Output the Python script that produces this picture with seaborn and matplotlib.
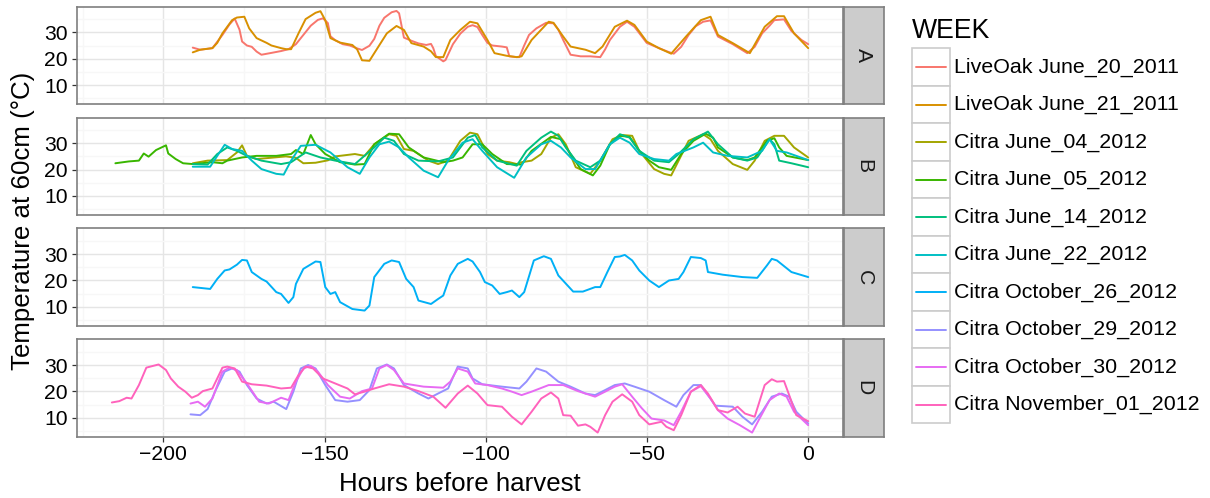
import matplotlib
matplotlib.use("Agg")
import matplotlib.pyplot as plt
from matplotlib.patches import Rectangle
import pandas as pd
import seaborn as sns

# ---------------------------------------------------------------------------
# Temperature records at 60 cm depth, hours before harvest
# ---------------------------------------------------------------------------
weeks = [
    "LiveOak June_20_2011", "LiveOak June_21_2011", "Citra June_04_2012",
    "Citra June_05_2012", "Citra June_14_2012", "Citra June_22_2012",
    "Citra October_26_2012", "Citra October_29_2012", "Citra October_30_2012",
    "Citra November_01_2012",
]
week_panel = ["A", "A", "B", "B", "B", "B", "C", "D", "D", "D"]
week_colors = ["#F8766D", "#D89000", "#A3A500", "#39B600", "#00BF7D",
               "#00BFC4", "#00B0F6", "#9590FF", "#E76BF3", "#FF62BC"]
panel_labels = ["A", "B", "C", "D"]

lo_0620_h = [-190.9, -188.6, -184.8, -181.7, -179.5, -177.9, -176.4, -175.6, -174.1, -172.6,
             -171.1, -169.6, -166.5, -163.5, -161.2, -158.9, -156.6, -154.3, -152.1, -150.5,
             -149.0, -148.2, -146.7, -144.4, -142.2, -139.9, -138.4, -136.1, -134.6, -133.0,
             -131.5, -129.2, -127.7, -126.9, -125.4, -123.1, -120.9, -118.5, -117.0, -116.3,
             -115.5, -113.2, -112.5, -110.2, -107.9, -105.6, -104.1, -102.6, -101.1, -99.5,
             -98.0, -95.0, -93.5, -92.7, -90.4, -89.6, -88.1, -86.6, -84.3, -81.3,
             -79.0, -77.5, -76.0, -73.7, -70.6, -67.6, -64.5, -63.0, -61.5, -58.4,
             -56.2, -53.9, -50.1, -46.3, -43.2, -41.7, -39.4, -37.1, -34.9, -32.6,
             -30.3, -28.0, -23.4, -18.9, -16.6, -14.3, -12.0, -10.5, -7.5, -5.2,
             -2.1, 0.0]
lo_0620_t = [24.2, 23.4, 24.0, 29.0, 33.0, 35.2, 31.0, 26.5, 25.0, 24.5,
             22.7, 21.5, 22.2, 22.9, 23.6, 25.5, 29.0, 32.5, 34.7, 35.3,
             33.5, 28.5, 27.0, 25.5, 25.0, 23.9, 23.3, 24.9, 27.5, 32.5,
             35.5, 37.6, 38.1, 37.2, 28.0, 26.8, 25.8, 25.2, 25.6, 24.0,
             21.0, 19.0, 19.5, 25.5, 29.5, 32.1, 32.7, 32.0, 29.0, 26.0,
             25.0, 24.6, 24.3, 20.9, 20.6, 20.6, 25.0, 29.0, 31.5, 33.6,
             33.4, 31.0, 27.1, 21.5, 20.9, 20.9, 20.6, 23.5, 27.1, 32.1,
             34.0, 32.1, 26.0, 24.0, 22.5, 21.9, 24.5, 29.0, 32.3, 34.0,
             34.5, 28.4, 25.5, 22.1, 24.5, 29.6, 32.5, 34.6, 34.9, 30.5,
             27.1, 25.5]

lo_0621_h = [-190.9, -188.6, -184.8, -183.3, -181.7, -178.7, -177.2, -174.9, -173.4, -171.1,
             -168.0, -166.5, -163.5, -161.9, -160.4, -158.1, -155.9, -152.8, -151.3, -149.8,
             -148.2, -145.2, -141.4, -139.9, -138.4, -136.1, -134.6, -130.7, -127.7, -125.4,
             -123.1, -119.3, -117.0, -115.5, -113.2, -111.0, -107.9, -104.9, -102.6, -99.5,
             -97.3, -93.5, -90.4, -88.9, -85.8, -80.5, -79.0, -76.0, -73.7, -69.1,
             -66.1, -63.8, -60.0, -56.2, -53.9, -50.1, -46.3, -42.5, -37.9, -33.3,
             -30.3, -28.0, -23.4, -18.1, -13.5, -9.7, -7.5, -4.4, 0.0]
lo_0621_t = [22.4, 23.4, 24.0, 26.0, 29.6, 34.6, 35.6, 35.9, 31.5, 27.8,
             26.0, 25.0, 24.0, 23.6, 23.6, 29.6, 35.0, 37.4, 38.0, 34.6,
             27.8, 26.1, 25.2, 23.5, 19.4, 19.2, 22.1, 29.6, 32.4, 30.9,
             25.9, 24.6, 22.8, 20.6, 20.6, 27.1, 30.9, 34.0, 33.4, 27.1,
             22.1, 21.1, 20.6, 20.9, 27.1, 34.0, 33.6, 28.4, 24.6, 23.4,
             22.1, 24.6, 32.1, 34.4, 32.8, 26.5, 24.0, 21.9, 28.4, 34.6,
             35.9, 29.0, 25.9, 22.1, 32.1, 36.1, 36.1, 29.6, 24.0]

ci_0604_h = [-190.9, -186.3, -180.2, -177.2, -175.6, -174.1, -171.1, -166.5, -162.0, -159.0,
             -156.6, -152.8, -149.0, -146.7, -140.6, -137.6, -134.6, -130.0, -127.7, -125.4,
             -122.4, -117.8, -114.8, -111.7, -107.9, -104.9, -102.6, -99.5, -96.5, -92.7,
             -90.4, -88.9, -85.8, -82.8, -79.8, -77.5, -75.2, -72.1, -67.6, -64.5,
             -60.7, -57.7, -54.6, -52.4, -47.8, -44.7, -42.5, -40.2, -37.1, -32.6,
             -30.3, -28.0, -23.4, -18.9, -16.6, -13.5, -10.5, -7.5, -4.4, 0.0]
ci_0604_t = [22.4, 23.4, 23.6, 26.5, 29.2, 25.2, 24.0, 24.5, 25.0, 24.5,
             22.4, 22.6, 23.5, 25.0, 25.9, 25.2, 29.6, 33.4, 32.8, 27.8,
             27.1, 23.4, 22.1, 23.4, 30.9, 34.0, 33.4, 25.9, 23.4, 22.8,
             22.1, 22.8, 23.4, 25.9, 32.1, 33.4, 29.6, 20.9, 18.4, 23.4,
             31.5, 33.1, 32.8, 27.1, 20.2, 18.4, 17.8, 23.4, 30.9, 33.4,
             31.5, 27.1, 22.1, 19.9, 23.4, 30.9, 32.8, 32.8, 28.4, 24.6]

ci_0605_h = [-214.9, -210.7, -207.6, -206.1, -204.6, -202.3, -199.2, -198.5, -196.2, -193.9,
             -190.9, -184.8, -181.7, -180.2, -175.6, -171.1, -165.0, -160.4, -158.9, -156.6,
             -154.3, -152.8, -149.8, -145.2, -140.6, -137.6, -134.6, -130.0, -126.9, -123.9,
             -119.3, -113.2, -110.2, -107.2, -104.1, -101.1, -98.0, -93.5, -88.9, -85.8,
             -79.8, -76.7, -73.7, -70.6, -66.8, -64.5, -61.5, -58.4, -55.4, -52.4,
             -49.3, -46.3, -42.5, -39.4, -35.6, -31.8, -29.5, -28.0, -23.4, -18.9,
             -16.6, -12.8, -10.5, -9.0, -6.7, 0.0]
ci_0605_t = [22.4, 23.1, 23.4, 26.1, 24.9, 27.4, 29.2, 26.1, 24.0, 22.4,
             22.1, 22.8, 22.4, 23.4, 24.6, 25.2, 25.2, 25.9, 27.4, 25.9,
             33.1, 29.6, 25.9, 22.8, 21.9, 22.1, 29.6, 33.6, 33.4, 28.4,
             24.6, 22.8, 23.4, 24.6, 29.6, 29.6, 25.9, 22.1, 21.9, 27.1,
             32.4, 31.5, 25.9, 20.2, 17.8, 21.5, 29.6, 32.8, 32.4, 27.1,
             23.4, 20.9, 19.9, 25.9, 30.9, 33.6, 32.1, 28.4, 24.6, 23.6,
             24.6, 30.9, 31.9, 28.4, 25.2, 23.6]

ci_0614_h = [-190.9, -186.3, -183.3, -180.2, -177.2, -174.1, -169.6, -163.5, -160.4, -155.9,
             -151.3, -146.7, -140.6, -134.6, -131.5, -128.5, -125.4, -120.9, -114.8, -110.2,
             -105.6, -103.3, -101.1, -96.5, -90.4, -87.4, -82.8, -79.8, -77.5, -75.2,
             -72.1, -67.6, -64.5, -61.5, -58.4, -55.4, -52.4, -47.8, -43.2, -40.2,
             -35.6, -31.1, -28.0, -23.4, -18.9, -15.8, -12.0, -10.5, -9.0, -5.2,
             0.0]
ci_0614_t = [22.1, 21.9, 25.9, 28.4, 27.1, 25.2, 23.4, 22.1, 22.8, 26.5,
             24.6, 23.4, 22.1, 28.4, 32.1, 30.9, 25.9, 23.4, 23.1, 24.6,
             32.1, 33.1, 28.4, 23.4, 21.5, 27.1, 32.1, 34.4, 32.8, 28.4,
             23.4, 20.9, 23.4, 29.6, 33.4, 32.1, 27.1, 23.4, 22.8, 25.9,
             31.5, 34.4, 29.6, 24.6, 23.4, 24.6, 31.5, 29.6, 23.4, 22.4,
             20.9]

ci_0622_h = [-190.9, -185.5, -183.3, -181.0, -178.7, -175.6, -172.6, -169.6, -165.0, -162.7,
             -160.4, -157.4, -152.8, -148.2, -142.9, -139.1, -136.1, -133.0, -130.0, -126.9,
             -123.9, -119.3, -114.8, -111.7, -107.2, -104.1, -101.1, -96.5, -91.2, -87.4,
             -82.8, -79.8, -76.7, -73.7, -69.1, -66.1, -61.5, -58.4, -55.4, -52.4,
             -47.8, -43.2, -40.9, -35.6, -32.6, -29.5, -25.0, -18.9, -14.3, -12.0,
             -9.7, -6.7, -3.7, 0.0]
ci_0622_t = [21.1, 21.1, 25.2, 29.4, 27.8, 27.1, 23.4, 20.2, 18.4, 18.1,
             23.4, 29.0, 29.4, 26.5, 20.9, 18.4, 24.6, 29.6, 30.6, 28.4,
             24.6, 19.6, 17.1, 23.4, 30.2, 31.5, 27.1, 20.9, 16.9, 24.6,
             29.6, 30.9, 28.4, 24.6, 20.2, 20.2, 29.6, 32.1, 30.2, 25.9,
             24.0, 23.4, 25.9, 28.4, 30.2, 26.5, 25.2, 24.6, 27.1, 31.5,
             27.1, 26.5, 25.2, 23.6]

ci_1026_h = [-190.9, -185.5, -183.3, -181.0, -179.5, -177.2, -175.6, -174.1, -172.6, -169.6,
             -168.0, -165.0, -163.5, -161.2, -159.7, -158.9, -156.6, -152.8, -151.3, -149.8,
             -148.2, -146.7, -145.2, -141.4, -137.6, -136.1, -134.6, -131.5, -129.2, -126.9,
             -124.7, -122.4, -120.9, -117.0, -114.8, -113.2, -111.0, -108.7, -105.6, -104.1,
             -101.8, -100.3, -98.0, -95.7, -93.5, -91.9, -89.6, -88.1, -85.1, -82.0,
             -79.8, -77.5, -72.9, -69.9, -66.1, -64.5, -62.3, -60.0, -58.4, -56.9,
             -54.6, -52.4, -49.3, -46.3, -43.2, -40.2, -38.7, -36.4, -33.3, -31.8,
             -31.1, -26.5, -20.4, -15.8, -12.8, -11.3, -9.7, -5.2, 0.0]
ci_1026_t = [17.5, 16.8, 20.6, 23.8, 24.2, 26.0, 27.8, 27.6, 23.2, 20.6,
             19.6, 15.6, 14.9, 11.5, 13.7, 18.7, 24.4, 27.2, 27.0, 17.5,
             14.9, 15.6, 11.8, 9.2, 8.6, 10.5, 21.3, 26.3, 27.6, 27.0,
             20.6, 17.5, 12.4, 11.1, 13.0, 14.3, 21.9, 26.3, 28.2, 27.2,
             23.2, 19.4, 18.1, 14.9, 15.6, 16.2, 13.7, 15.6, 27.6, 29.2,
             28.2, 21.9, 15.8, 15.8, 17.5, 17.5, 23.2, 28.9, 29.1, 29.7,
             27.6, 23.8, 20.0, 17.5, 20.0, 20.6, 23.2, 28.9, 28.5, 27.6,
             23.2, 22.2, 21.3, 21.0, 25.7, 28.2, 27.6, 23.2, 21.3]

ci_1029_h = [-191.6, -188.6, -186.3, -184.0, -181.0, -178.7, -176.4, -174.1, -171.1, -168.0,
             -165.8, -161.9, -159.7, -157.4, -155.1, -152.8, -149.8, -146.7, -142.9, -139.1,
             -136.1, -133.8, -130.7, -128.5, -125.4, -120.9, -117.8, -114.8, -111.7, -108.7,
             -105.6, -104.1, -101.1, -95.0, -89.6, -87.4, -84.3, -81.3, -77.5, -73.7,
             -69.1, -66.1, -63.0, -60.0, -56.9, -53.9, -49.3, -44.7, -40.9, -38.7,
             -35.6, -33.3, -31.1, -28.8, -23.4, -20.4, -17.4, -14.3, -11.3, -8.2,
             -5.9, -3.7, 0.0]
ci_1029_t = [11.3, 11.0, 13.3, 19.9, 27.5, 28.7, 27.5, 22.4, 17.3, 15.4,
             16.1, 13.3, 19.9, 28.7, 30.0, 28.7, 22.4, 16.7, 16.1, 16.7,
             20.5, 28.7, 30.2, 28.7, 22.4, 19.2, 17.3, 19.2, 21.1, 29.4,
             28.7, 24.9, 22.7, 21.8, 21.1, 23.7, 28.7, 27.5, 23.7, 21.8,
             19.2, 18.6, 20.5, 22.4, 23.0, 21.8, 19.9, 16.7, 14.2, 18.6,
             22.4, 22.4, 18.6, 14.6, 14.2, 10.4, 7.5, 12.3, 18.0, 19.2,
             18.0, 12.3, 7.8]

ci_1030_h = [-191.6, -189.3, -187.1, -184.8, -181.7, -179.5, -177.2, -174.1, -170.3, -167.3,
             -163.5, -161.2, -158.9, -156.6, -154.3, -152.1, -149.0, -145.2, -142.2, -138.4,
             -135.3, -133.0, -130.7, -128.5, -125.4, -119.3, -113.2, -111.0, -108.7, -105.6,
             -103.3, -99.5, -95.0, -91.9, -88.9, -85.8, -80.5, -76.0, -71.4, -66.1,
             -63.0, -60.0, -57.7, -54.6, -51.6, -48.6, -44.7, -41.7, -39.4, -36.4,
             -33.3, -30.3, -28.0, -25.0, -21.2, -17.4, -15.1, -12.0, -9.0, -6.7,
             -4.4, 0.0]
ci_1030_t = [15.4, 16.1, 14.2, 17.3, 27.5, 29.0, 28.1, 23.0, 16.1, 15.4,
             17.6, 16.7, 23.7, 28.7, 29.7, 27.5, 22.4, 18.0, 17.3, 20.1,
             21.1, 28.7, 30.0, 28.1, 23.0, 21.8, 21.4, 23.7, 28.7, 27.5,
             23.0, 22.4, 21.1, 19.9, 18.6, 19.9, 22.4, 22.4, 20.1, 18.0,
             19.9, 21.8, 22.7, 18.0, 13.6, 9.7, 9.0, 7.2, 12.3, 19.9,
             22.0, 17.3, 12.9, 9.7, 7.2, 4.4, 9.7, 16.7, 19.2, 18.0,
             12.3, 7.2]

ci_1101_h = [-216.0, -213.7, -211.4, -209.9, -207.6, -205.3, -203.1, -201.5, -199.2, -197.7,
             -195.4, -193.2, -191.2, -189.3, -187.8, -184.8, -181.7, -180.2, -177.9, -175.6,
             -172.6, -168.0, -163.5, -160.4, -158.1, -155.9, -153.6, -150.5, -146.7, -142.9,
             -140.6, -137.6, -134.6, -130.0, -125.4, -120.9, -116.3, -112.5, -108.7, -105.6,
             -102.6, -99.5, -95.0, -91.9, -88.9, -85.8, -82.8, -79.8, -77.5, -76.0,
             -73.7, -71.4, -69.1, -67.6, -65.3, -63.0, -60.7, -57.7, -54.6, -52.4,
             -49.3, -45.5, -44.0, -41.7, -39.4, -36.4, -33.3, -31.1, -28.0, -25.0,
             -21.9, -19.6, -16.6, -13.5, -11.3, -9.7, -7.5, -5.9, -3.7, 0.0]
ci_1101_t = [15.8, 16.3, 17.6, 17.3, 22.4, 29.0, 29.7, 30.2, 28.1, 24.9,
             21.8, 19.9, 17.6, 18.6, 20.1, 21.1, 29.0, 29.4, 28.7, 23.7,
             22.7, 22.2, 21.1, 21.4, 26.2, 29.4, 28.7, 24.9, 23.0, 21.1,
             18.9, 19.9, 21.1, 22.7, 21.8, 20.1, 18.0, 13.8, 19.2, 22.2,
             19.2, 14.8, 14.2, 10.4, 7.5, 12.3, 17.3, 19.6, 17.3, 11.0,
             10.8, 7.0, 7.5, 6.6, 4.4, 11.0, 16.1, 18.9, 16.1, 11.0,
             7.5, 8.5, 6.6, 5.3, 11.0, 19.9, 22.4, 19.2, 12.9, 12.0,
             14.2, 11.6, 10.4, 22.4, 24.6, 23.7, 23.9, 18.6, 11.0, 8.7]

series = {
    "LiveOak June_20_2011": (lo_0620_h, lo_0620_t),
    "LiveOak June_21_2011": (lo_0621_h, lo_0621_t),
    "Citra June_04_2012": (ci_0604_h, ci_0604_t),
    "Citra June_05_2012": (ci_0605_h, ci_0605_t),
    "Citra June_14_2012": (ci_0614_h, ci_0614_t),
    "Citra June_22_2012": (ci_0622_h, ci_0622_t),
    "Citra October_26_2012": (ci_1026_h, ci_1026_t),
    "Citra October_29_2012": (ci_1029_h, ci_1029_t),
    "Citra October_30_2012": (ci_1030_h, ci_1030_t),
    "Citra November_01_2012": (ci_1101_h, ci_1101_t),
}

frames = []
for week, panel in zip(weeks, week_panel):
    hrs, temps = series[week]
    frames.append(pd.DataFrame({"hours": hrs, "temp": temps,
                                "WEEK": week, "panel": panel}))
df = pd.concat(frames, ignore_index=True)
palette = dict(zip(weeks, week_colors))

# ---------------------------------------------------------------------------
# Figure layout (pixel geometry converted to figure fractions)
# ---------------------------------------------------------------------------
sns.set_theme(style="white")
plt.rcParams["font.family"] = ["Liberation Sans", "DejaVu Sans"]
plt.rcParams["text.color"] = "black"
plt.rcParams["axes.labelcolor"] = "black"

W, H = 1210, 498
fig = plt.figure(figsize=(W / 100, H / 100), dpi=100)


def frac_box(left, top, width, height):
    return [left / W, 1 - (top + height) / H, width / W, height / H]


border_col = "#7F7F7F"
tick_size = 15.2
legend_size = 15.4
title_size = 18.6
panel_left, panel_w, panel_h = 76.7, 766.0, 97.4
panel_tops = [6.7, 117.6, 228.5, 339.4]

for i, (label, top) in enumerate(zip(panel_labels, panel_tops)):
    ax = fig.add_axes(frac_box(panel_left, top, panel_w, panel_h))
    sub = df[df["panel"] == label]
    order = [w for w in weeks if w in set(sub["WEEK"])]
    sns.lineplot(data=sub, x="hours", y="temp", hue="WEEK", hue_order=order,
                 palette=palette, estimator=None, sort=False, legend=False,
                 lw=1.4, solid_joinstyle="round", solid_capstyle="round",
                 ax=ax)
    ax.set_xlim(-226.9, 10.7)
    ax.set_ylim(2.8, 39.7)
    ax.set_xticks([-200, -150, -100, -50, 0])
    ax.set_xticks([-225, -175, -125, -75, -25], minor=True)
    ax.set_yticks([10, 20, 30])
    ax.set_yticks([5, 15, 25, 35], minor=True)
    ax.set_facecolor("white")
    ax.grid(which="major", color="#E5E5E5", lw=1.0)
    ax.grid(which="minor", color="#F7F7F7", lw=1.0)
    ax.set_axisbelow(True)
    for sp in ax.spines.values():
        sp.set_visible(True)
        sp.set_color(border_col)
        sp.set_linewidth(1.2)
    ax.tick_params(axis="y", which="major", left=True, length=3.8, width=0.9,
                   color="#333333", labelsize=tick_size, pad=2.4,
                   labelcolor="black")
    ax.tick_params(which="minor", length=0)
    if i == len(panel_labels) - 1:
        ax.tick_params(axis="x", which="major", bottom=True, length=3.8,
                       width=0.9, color="#333333", labelsize=tick_size,
                       pad=2.4, labelcolor="black")
        ax.set_xticklabels(["\u2212200", "\u2212150", "\u2212100", "\u221250", "0"])
    else:
        ax.tick_params(axis="x", bottom=False, labelbottom=False)
    ax.set_xlabel("")
    ax.set_ylabel("")

    # facet strip on the right
    sax = fig.add_axes(frac_box(843.6, top, 40.6, panel_h))
    sax.set_facecolor("#CCCCCC")
    sax.set_xticks([])
    sax.set_yticks([])
    for sp in sax.spines.values():
        sp.set_visible(True)
        sp.set_color(border_col)
        sp.set_linewidth(1.2)
    sax.text(0.5, 0.5, label, rotation=-90, ha="center", va="center",
             fontsize=tick_size, color="#1A1A1A", transform=sax.transAxes)

fig.text(23.5 / W, 1 - 220.5 / H, "Temperature at 60cm (\u00b0C)", rotation=90,
         ha="center", va="center", fontsize=title_size, color="black")
fig.text(459.7 / W, 1 - 484 / H, "Hours before harvest", ha="center",
         va="center", fontsize=title_size, color="black")

# ---------------------------------------------------------------------------
# Legend drawn in its own axes, one keyed row per WEEK
# ---------------------------------------------------------------------------
lax = fig.add_axes([900 / W, 0, 310 / W, 1])
lax.set_xlim(900, 1210)
lax.set_ylim(H, 0)
lax.axis("off")
lax.text(912, 30.5, "WEEK", ha="left", va="center", fontsize=19.2,
         color="black")
row_h = 37.5
for k, week in enumerate(weeks):
    y0 = 48.3 + row_h * k
    lax.add_patch(Rectangle((911.7, y0), 38.3, row_h, facecolor="white",
                            edgecolor="#CCCCCC", lw=1.2))
    lax.plot([916, 945.7], [y0 + row_h / 2] * 2, color=palette[week], lw=1.4)
    lax.text(954.3, y0 + row_h / 2, week, ha="left", va="center",
             fontsize=legend_size, color="black")

fig.savefig("out.png", dpi=100)
